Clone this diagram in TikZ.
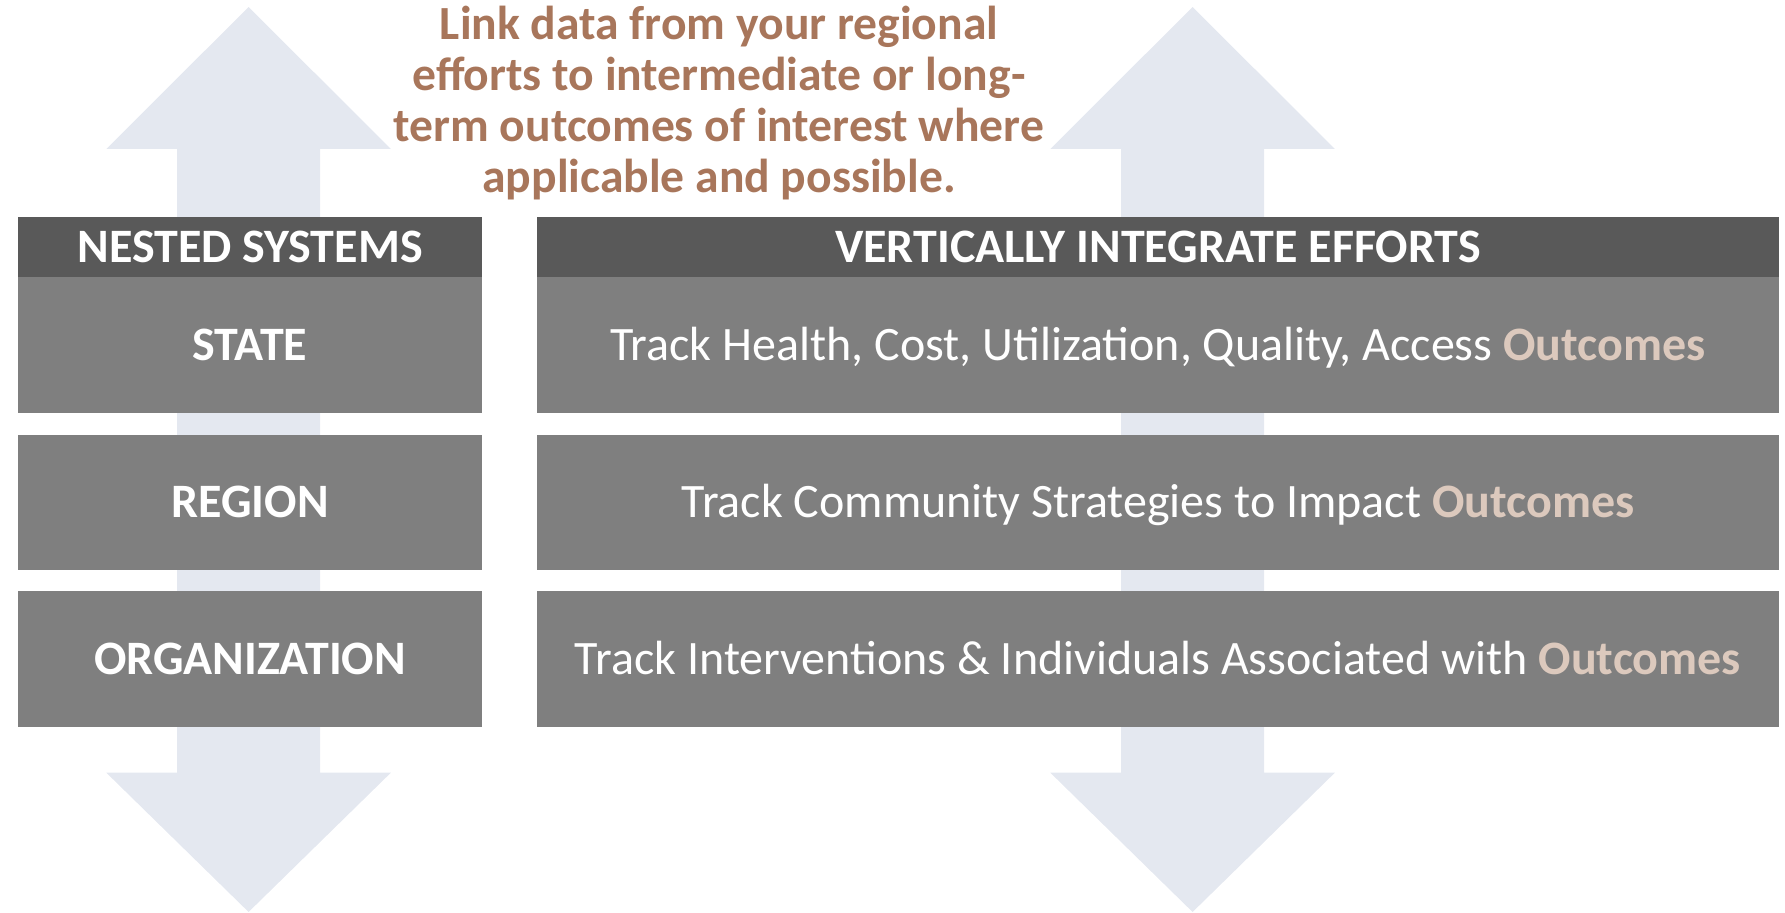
\documentclass[tikz,border=0pt]{standalone}
\usepackage{fontspec}
\setmainfont{Carlito}

\definecolor{hdrgray}{HTML}{595959}
\definecolor{rowgray}{HTML}{7F7F7F}
\definecolor{arrowblue}{HTML}{E4E8F0}
\definecolor{linkbrown}{HTML}{A8765B}
\definecolor{outcometxt}{HTML}{DCC9BD}

\newcommand\outc{\textbf{\textcolor{outcometxt}{Outcomes}}}

\tikzset{
  cell/.style={anchor=north west, inner sep=0pt, outer sep=0pt,
    text=white, text height=15.2pt, text depth=0pt},
  hdrbox/.style={cell, fill=hdrgray, minimum height=30pt,
    font=\bfseries\fontsize{24}{29}\selectfont},
  labbox/.style={cell, fill=rowgray, minimum width=232pt,
    font=\bfseries\fontsize{24}{29}\selectfont},
  trkbox/.style={cell, fill=rowgray, minimum width=621pt,
    font=\fontsize{24}{29}\selectfont},
  linktext/.style={anchor=north, align=center, inner sep=0pt,
    text=linkbrown, font=\bfseries\fontsize{23.8}{25.5}\selectfont}
}

\begin{document}
\begin{tikzpicture}[x=0.5pt,y=-0.5pt]
  \useasboundingbox (0,0) rectangle (1785,913);
  % up/down arrows behind the tables
  \foreach \cx in {248.6,1192.6}{%
    \fill[arrowblue] (\cx,7) -- (\cx+142.3,149) -- (\cx+71.5,149)
      -- (\cx+71.5,772.7) -- (\cx+142.3,772.7) -- (\cx,912)
      -- (\cx-142.3,772.7) -- (\cx-71.5,772.7) -- (\cx-71.5,149)
      -- (\cx-142.3,149) -- cycle;
  }
  % table headers
  \node[hdrbox, minimum width=232pt] (nested) at (18,217) {NESTED SYSTEMS};
  \node[hdrbox, minimum width=621pt] (integrate) at (537,217) {VERTICALLY INTEGRATE EFFORTS};
  % rows: name/top/height/label/text
  \foreach \n/\y/\h/\lab/\trk in {%
    state/277/136/STATE/{Track Health, Cost, Utilization, Quality, Access \outc},
    region/435/135/REGION/{Track Community Strategies to Impact \outc},
    org/591/136/ORGANIZATION/{Track Interventions \& Individuals Associated with \outc}}{%
    \node[labbox, minimum height=\h*0.5pt] (\n-lab) at (18,\y) {\lab};
    \node[trkbox, minimum height=\h*0.5pt] (\n-trk) at (537,\y) {\trk};
  }
  \node[linktext] (link) at (719,6) {Link data from your regional\\
    efforts to intermediate or long-\\term outcomes of interest where\\
    applicable and possible.};
\end{tikzpicture}
\end{document}
